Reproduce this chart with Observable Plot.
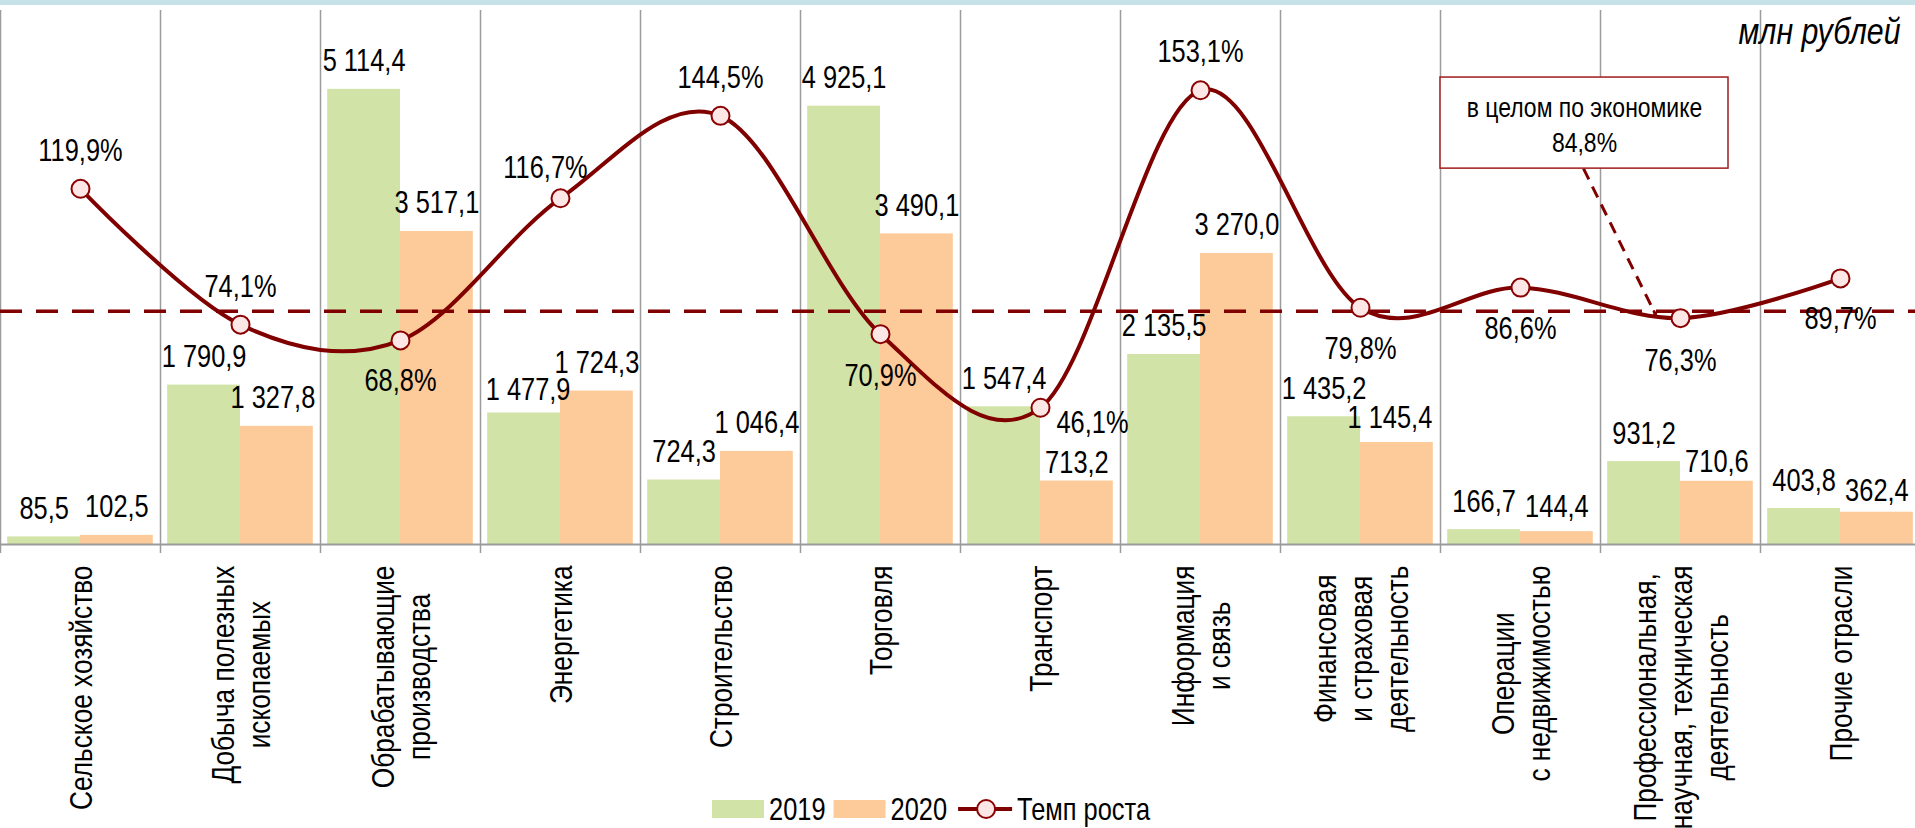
<!DOCTYPE html>
<html>
<head>
<meta charset="utf-8">
<script src="https://cdn.jsdelivr.net/npm/d3@7"></script>
<script src="https://cdn.jsdelivr.net/npm/@observablehq/plot@0.6"></script>
<style>
  html, body { margin: 0; padding: 0; background: #fff; overflow: hidden; }
  #wrap { position: relative; width: 1915px; height: 828px; }
  .band { position: absolute; left: 0; top: 0; width: 1915px; height: 5px; background: #c6e1e8; }
  #legend { position: absolute; left: 700px; top: 790px; }
</style>
</head>
<body>
<div id="wrap">
  <div id="chart"></div>
  <div class="band"></div>
  <svg id="legend" width="480" height="38"></svg>
</div>
<script>
// ---------- data ----------
const categories = [
  "Сельское хозяйство",
  "Добыча полезных\nископаемых",
  "Обрабатывающие\nпроизводства",
  "Энергетика",
  "Строительство",
  "Торговля",
  "Транспорт",
  "Информация\nи связь",
  "Финансовая\nи страховая\nдеятельность",
  "Операции\nс недвижимостью",
  "Профессиональная,\nнаучная, техническая\nдеятельность",
  "Прочие отрасли"
];
const values2019 = [85.5, 1790.9, 5114.4, 1477.9, 724.3, 4925.1, 1547.4, 2135.5, 1435.2, 166.7, 931.2, 403.8];
const values2020 = [102.5, 1327.8, 3517.1, 1724.3, 1046.4, 3490.1, 713.2, 3270.0, 1145.4, 144.4, 710.6, 362.4];
const growthRate = [119.9, 74.1, 68.8, 116.7, 144.5, 70.9, 46.1, 153.1, 79.8, 86.6, 76.3, 89.7];
const seriesNames = ["2019", "2020", "Темп роста"];
const unitLabel = "млн рублей";
const economyText = "в целом по экономике";
const economyRate = 84.8;
const economyLineLevel = 78.6;   // level at which the dashed reference line is drawn

// ---------- layout / style ----------
const W = 1915, H = 828;
const plotTop = 10, plotBottom = 544, bandPx = 160;
const valueMax = 6000, rateMax = 180;
const unitsPerPx = valueMax / (plotBottom - plotTop);
const k = valueMax / rateMax;
const gap = 0.045;
const colors = ["#d1e3a6", "#fdca99"];
const lineColor = "#800000";
const baseFont = "'Liberation Sans', Arial, sans-serif";
const condense = 0.82;   // Arial Narrow ≈ Arial compressed horizontally

// label nudges in px (positive = right / down)
const nudge2019 = [[0,0],[0,0],[0,0],[4,5],[0,0],[0,0],[0,0],[0,0],[0,0],[0,0],[0,0],[0,0]];
const nudge2020 = [[0,0],[-4,0],[0,0],[0,0],[0,0],[0,0],[0,10],[0,0],[-7,3],[0,3],[0,9],[0,7]];
const rateLabelOffsets = [[0,-28],[0,-28],[0,51],[-15,-20],[0,-28],[0,52],[52,25],[0,-28],[0,51],[0,51],[0,53],[0,51]];

// annotation box (data space: x in category units, y in rate %)
const annotation = {x1: 9.0, x2: 10.8, top: 157.4, bottom: 126.7, arrowX1: 9.894, arrowX2: 10.344, arrowR2: 77.5};

const locale = d3.formatLocale({decimal: ",", thousands: " ", grouping: [3], currency: ["", ""]});
const fmt = locale.format(",.1f");
const fmtPct = d => locale.format(".1f")(d) + "%";

const n = categories.length;
const rows = categories.map((c, i) => ({i, c, v19: values2019[i], v20: values2020[i], r: growthRate[i]}));

const ctx = document.createElement("canvas").getContext("2d");
ctx.font = `32px ${baseFont}`;
const catRows = categories.map((c, i) => {
  const len = d3.max(c.split("\n"), s => ctx.measureText(s).width) * condense;
  return {i, c, y: -(21 + len / 2) * unitsPerPx};
});

const a = annotation;
const arrowStart = {x: a.arrowX1, y: a.bottom * k};
const arrowEnd = {x: a.arrowX2, y: a.arrowR2 * k};
const headStart = {x: arrowStart.x + (arrowEnd.x - arrowStart.x) * 0.98, y: arrowStart.y + (arrowEnd.y - arrowStart.y) * 0.98};

const chart = Plot.plot({
  width: W, height: H,
  marginTop: plotTop, marginBottom: H - plotBottom, marginLeft: 0, marginRight: 0,
  style: {fontFamily: baseFont},
  x: {type: "linear", domain: [0, n], range: [0, n * bandPx], axis: null},
  y: {type: "linear", domain: [0, valueMax], axis: null},
  marks: [
    Plot.ruleX(d3.range(n + 1), {x: d => d, stroke: "#9b9b9b", strokeWidth: 1.5, insetBottom: -9}),
    Plot.rect(rows, {x1: d => d.i + gap, x2: d => d.i + 0.5, y1: 0, y2: "v19", fill: colors[0]}),
    Plot.rect(rows, {x1: d => d.i + 0.5, x2: d => d.i + 1 - gap, y1: 0, y2: "v20", fill: colors[1]}),
    Plot.ruleY([0], {stroke: "#9b9b9b", strokeWidth: 2}),
    Plot.ruleY([economyLineLevel], {y: d => d * k, stroke: lineColor, strokeWidth: 3.5, strokeDasharray: "22,14"}),
    Plot.line(rows, {x: d => d.i + 0.5, y: d => d.r * k, curve: "cardinal", stroke: lineColor, strokeWidth: 4}),
    Plot.dot(rows, {x: d => d.i + 0.5, y: d => d.r * k, r: 9, fill: "#fde6e6", stroke: "#8b0000", strokeWidth: 2}),
    // annotation box + arrow
    Plot.link([0], {x1: arrowStart.x, y1: arrowStart.y, x2: headStart.x, y2: headStart.y, stroke: lineColor, strokeWidth: 3, strokeDasharray: "12,8"}),
    Plot.arrow([0], {x1: headStart.x, y1: headStart.y, x2: arrowEnd.x, y2: arrowEnd.y, stroke: lineColor, strokeWidth: 3, headLength: 20, headAngle: 58}),
    Plot.rect([0], {x1: a.x1, x2: a.x2, y1: a.bottom * k, y2: a.top * k, fill: "white", stroke: "#a11b1b", strokeWidth: 1.5}),
    Plot.text([economyText + "\n" + fmtPct(economyRate)], {x: (a.x1 + a.x2) / 2, y: (a.top + a.bottom) / 2 * k, text: d => d,
      fontFamily: baseFont, fontSize: 28, lineHeight: 1.27, lineAnchor: "middle", textAnchor: "middle", fill: "#000"}),
    // bar value labels
    Plot.text(rows, {x: d => d.i + (gap + 0.5) / 2 + nudge2019[d.i][0] / bandPx, y: d => d.v19 + (18 - nudge2019[d.i][1]) * unitsPerPx,
      text: d => fmt(d.v19), lineAnchor: "bottom", textAnchor: "middle", fontFamily: baseFont, fontSize: 31, fill: "#000"}),
    Plot.text(rows, {x: d => d.i + 0.5 + (0.5 - gap) / 2 + nudge2020[d.i][0] / bandPx, y: d => d.v20 + (18 - nudge2020[d.i][1]) * unitsPerPx,
      text: d => fmt(d.v20), lineAnchor: "bottom", textAnchor: "middle", fontFamily: baseFont, fontSize: 31, fill: "#000"}),
    // growth labels
    Plot.text(rows, {x: d => d.i + 0.5 + rateLabelOffsets[d.i][0] / bandPx, y: d => d.r * k - rateLabelOffsets[d.i][1] * unitsPerPx,
      text: d => fmtPct(d.r), lineAnchor: "bottom", textAnchor: "middle", fontFamily: baseFont, fontSize: 31, fill: "#000"}),
    // category labels
    Plot.text(catRows, {x: d => d.i + 0.5, y: "y", text: "c", rotate: -90, textAnchor: "middle", lineAnchor: "middle",
      lineHeight: 1.125, fontFamily: baseFont, fontSize: 32, fill: "#000"}),
    // unit label
    Plot.text([unitLabel], {frameAnchor: "top-right", dx: -15, dy: 7, lineAnchor: "top", textAnchor: "end",
      fontFamily: baseFont, fontSize: 37, fontStyle: "italic", fill: "#000"})
  ]
});
document.getElementById("chart").appendChild(chart);

// condense all texts horizontally in their own frame (narrow face emulation)
function condenseText(root) {
  root.querySelectorAll("text").forEach(t => {
    const xa = t.getAttribute("x");
    let extra = "";
    if (xa !== null && isFinite(+xa) && +xa !== 0) {
      extra = ` translate(${+xa},0)`;
      t.removeAttribute("x");
    }
    const tr = t.getAttribute("transform") || "";
    t.setAttribute("transform", `${tr}${extra} scale(${condense},1)`.trim());
  });
}
condenseText(chart);

// legend
const lg = d3.select("#legend");
const lgFont = 31;
ctx.font = `${lgFont}px ${baseFont}`;
let cx = 12;
const swatchW = 52, swatchH = 18, midY = 19;
function addSwatch(color) {
  lg.append("rect").attr("x", cx).attr("y", midY - swatchH / 2).attr("width", swatchW).attr("height", swatchH).attr("fill", color);
  cx += swatchW + 5;
}
function addLabel(s, after) {
  lg.append("text").attr("x", cx).attr("y", midY + 11).attr("font-family", baseFont).attr("font-size", lgFont).attr("fill", "#000").text(s);
  cx += ctx.measureText(s).width * condense + after;
}
addSwatch(colors[0]); addLabel(seriesNames[0], 8);
addSwatch(colors[1]); addLabel(seriesNames[1], 11);
lg.append("line").attr("x1", cx).attr("x2", cx + 54).attr("y1", midY).attr("y2", midY).attr("stroke", lineColor).attr("stroke-width", 4);
lg.append("circle").attr("cx", cx + 28).attr("cy", midY).attr("r", 9).attr("fill", "#fde6e6").attr("stroke", "#8b0000").attr("stroke-width", 2);
cx += 59;
addLabel(seriesNames[2], 0);
condenseText(document.getElementById("legend"));
</script>
</body>
</html>
